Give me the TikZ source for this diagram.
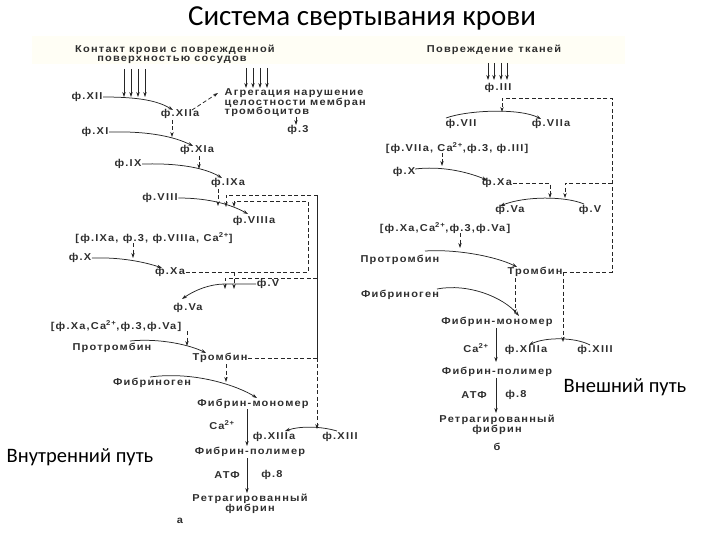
\documentclass[tikz,border=0pt]{standalone}
\usepackage{fontspec}
\setmainfont{Liberation Sans}
\newfontfamily\diag[LetterSpace=12,FakeStretch=1.1]{Liberation Sans Bold}
\newfontfamily\calib{Carlito}
\usetikzlibrary{arrows.meta}
\begin{document}
\begin{tikzpicture}[x=1pt,y=-1pt,
  lbl/.style={font=\diag\fontsize{10}{9.6}\selectfont, text=black!82, inner sep=0.5pt},
  ln/.style={draw=black!85, line width=0.75pt},
  arr/.style={ln,-{Stealth[length=5pt,width=3.4pt]}},
  dsh/.style={dash pattern=on 4pt off 2.5pt},
  big/.style={font=\calib\fontsize{20.5}{24}\selectfont, inner sep=0pt},
]
\useasboundingbox (0,0) rectangle (720,540);
\fill[yellow!4] (32,36) rectangle (625,64);

% titles
\node[font=\calib\fontsize{29}{33}\selectfont, inner sep=0pt] (title) at (362,18) {Система свертывания крови};
\node[big] (ext) at (625,387) {Внешний путь};
\node[big] (intr) at (80,457) {Внутренний путь};

% ---------------- left panel ----------------
\node[lbl] (tl1) at (175,50) {Контакт крови с поврежденной};
\node[lbl] (tl2) at (172,60) {поверхностью сосудов};
\node[lbl] (fXII) at (87,97) {ф.XII};
\node[lbl] (fXIIa) at (180,114) {ф.XIIa};
\node[lbl, align=left, anchor=north west] (agg) at (224,88) {Агрегация\,\,нарушение\\целостности мембран\\тромбоцитов};
\node[lbl] (f3) at (298,130) {ф.3};
\node[lbl] (fXI) at (95,132) {ф.XI};
\node[lbl] (fXIa) at (197,150) {ф.XIa};
\node[lbl] (fIX) at (128,164) {ф.IX};
\node[lbl] (fIXa) at (228,183) {ф.IXa};
\node[lbl] (fVIII) at (160,198) {ф.VIII};
\node[lbl] (fVIIIa) at (254,221) {ф.VIIIa};
\node[lbl] (br1) at (154,238) {[ф.IXa, ф.3, ф.VIIIa, Ca\textsuperscript{2+}]};
\node[lbl] (fX) at (80,258) {ф.X};
\node[lbl] (fXa) at (170,272) {ф.Xa};
\node[lbl] (fV) at (268,284) {ф.V};
\node[lbl] (fVa) at (188,308) {ф.Va};
\node[lbl] (br2) at (116,326) {[ф.Xa,Ca\textsuperscript{2+},ф.3,ф.Va]};
\node[lbl] (proth) at (112,348) {Протромбин};
\node[lbl] (thr) at (220,358) {Тромбин};
\node[lbl] (fbg) at (152,383) {Фибриноген};
\node[lbl] (mono) at (253,404) {Фибрин-мономер};
\node[lbl] (ca) at (222,425) {Ca\textsuperscript{2+}};
\node[lbl] (fXIIIa) at (274,437) {ф.XIIIa};
\node[lbl] (fXIII) at (340,437) {ф.XIII};
\node[lbl] (poly) at (250,452) {Фибрин-полимер};
\node[lbl] (atf) at (227,475) {АТФ};
\node[lbl] (f8) at (272,475) {ф.8};
\node[lbl, align=center] (retr) at (250,504) {Ретрагированный\\фибрин};
\node[lbl] (la) at (180,521) {а};

\foreach \x in {124,131,138,145} \draw[arr] (\x,69) -- (\x,97);
\foreach \x in {246,253,260,267} \draw[arr] (\x,68) -- (\x,88);
\draw[arr] (fXII.east) .. controls (140,97) and (158,101) .. (173,110);
\draw[arr,dsh] (192,110) -- (218,93);
\draw[arr] (296,117) -- (296,125);
\draw[arr,dsh] (172,120) -- (172,137);
\draw[arr] (fXI.east) .. controls (150,131) and (175,137) .. (193,146);
\draw[arr,dsh] (199,156) -- (199,169);
\draw[arr] (fIX.east) .. controls (180,163) and (205,168) .. (222,178);
\draw[arr,dsh] (218,189) -- (218,206);
\draw[arr] (fVIII.east) .. controls (210,198) and (232,205) .. (248,214);
% outer (thrombin) loop
\draw[ln,dsh] (thr.east) -- (317,358);
\draw[arr,dsh] (317,358) -- (317,195) -- (226,195) -- (226,207);
\draw[arr,dsh] (317,195) -- (317,429);
\draw[arr,dsh] (317,278) -- (225,278) -- (225,289);
% inner (Xa) loop
\draw[arr,dsh] (fXa.east) -- (308,272) -- (308,201) -- (234,201) -- (234,207);
\draw[arr,dsh] (234,272) -- (234,289);
\draw[arr] (fX.east) .. controls (120,257) and (145,262) .. (162,268);
\draw[arr,dsh] (133,243) -- (133,258);
\draw[arr] (fV.west) -- (225,284) .. controls (210,284) and (195,290) .. (182,299);
\draw[arr,dsh] (187,331) -- (187,346);
\draw[arr] (130,341) .. controls (160,338) and (190,345) .. (206,353);
\draw[arr,dsh] (226,364) -- (226,382);
\draw[arr] (150,377) .. controls (195,371) and (238,386) .. (257,398);
\draw[arr] (247,409) -- (247,446);
\draw[arr] (337,431) .. controls (320,426) and (300,426) .. (285,431);
\draw[arr] (247,458) -- (247,493);

% ---------------- right panel ----------------
\node[lbl] (tr1) at (494,50) {Повреждение\,\,\,тканей};
\node[lbl] (fIII) at (498,88) {ф.III};
\node[lbl] (fVII) at (461,124) {ф.VII};
\node[lbl] (fVIIa) at (551,124) {ф.VIIa};
\node[lbl] (br3) at (457,148) {[ф.VIIa, Ca\textsuperscript{2+},ф.3, ф.III]};
\node[lbl] (rfX) at (404,172) {ф.X};
\node[lbl] (rfXa) at (497,183) {ф.Xa};
\node[lbl] (rfV) at (590,210) {ф.V};
\node[lbl] (rfVa) at (510,210) {ф.Va};
\node[lbl] (br4) at (445,228) {[ф.Xa,Ca\textsuperscript{2+},ф.3,ф.Va]};
\node[lbl] (rproth) at (400,260) {Протромбин};
\node[lbl] (rthr) at (535,272) {Тромбин};
\node[lbl] (rfbg) at (400,295) {Фибриноген};
\node[lbl] (rmono) at (497,322) {Фибрин-мономер};
\node[lbl] (rca) at (476,348) {Ca\textsuperscript{2+}};
\node[lbl] (rfXIIIa) at (526,350) {ф.XIIIa};
\node[lbl] (rfXIII) at (595,350) {ф.XIII};
\node[lbl] (rpoly) at (497,372) {Фибрин-полимер};
\node[lbl] (ratf) at (474,395) {АТФ};
\node[lbl] (rf8) at (516,395) {ф.8};
\node[lbl, align=center] (rretr) at (497,425) {Ретрагированный\\фибрин};
\node[lbl] (rb) at (497,447) {б};

\foreach \x in {488,494,501,507} \draw[arr] (\x,63) -- (\x,80);
\draw[arr,dsh] (rthr.east) -- (612,272) -- (612,98) -- (502,98) -- (502,112);
\draw[arr] (446,118) .. controls (468,110) and (520,108) .. (541,119);
\draw[arr,dsh] (442,153) -- (442,166);
\draw[arr] (415,169) .. controls (440,166) and (465,171) .. (487,180);
\draw[arr,dsh] (rfXa.east) -- (550,183) -- (550,198);
\draw[arr,dsh] (612,183) -- (565,183) -- (565,198);
\draw[arr] (584,204) .. controls (565,196) and (525,196) .. (500,206);
\draw[arr,dsh] (460,233) -- (460,248);
\draw[arr] (425,251) .. controls (455,249) and (495,256) .. (517,267);
\draw[arr,dsh] (515,278) -- (515,314);
\draw[arr,dsh] (563,272) -- (563,342);
\draw[arr] (437,289) .. controls (468,283) and (503,297) .. (519,316);
\draw[arr] (496,328) -- (496,362);
\draw[arr] (590,345) .. controls (575,337) and (545,337) .. (529,345);
\draw[arr] (496,378) -- (496,413);
\end{tikzpicture}
\end{document}
